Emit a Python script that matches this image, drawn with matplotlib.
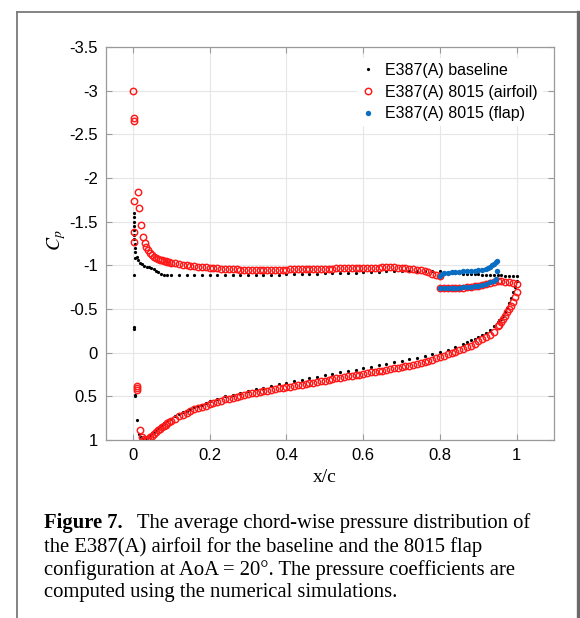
import matplotlib
matplotlib.use("Agg")
import matplotlib.pyplot as plt
from matplotlib.lines import Line2D

# E387(A) baseline, suction side (leading edge to trailing edge)
base_up_x = [0.003, 0.003, 0.003, 0.004, 0.004, 0.004, 0.004, 0.005, 0.005, 0.005, 0.003, 0.006,
             0.010, 0.014, 0.018, 0.024, 0.030, 0.036, 0.042, 0.048, 0.054, 0.060, 0.066, 0.072,
             0.080, 0.090, 0.10, 0.12, 0.14, 0.16, 0.18, 0.20, 0.22, 0.24, 0.26, 0.28, 0.30, 0.32,
             0.34, 0.36, 0.38, 0.40, 0.42, 0.44, 0.46, 0.48, 0.50, 0.52, 0.54, 0.56, 0.58, 0.60,
             0.62, 0.64, 0.66, 0.68, 0.70, 0.72, 0.74, 0.76, 0.78, 0.80, 0.81, 0.82, 0.83, 0.84,
             0.85, 0.86, 0.87, 0.88, 0.89, 0.90, 0.91, 0.92, 0.93, 0.94, 0.95, 0.96, 0.97, 0.98,
             0.99, 1.00]
base_up_cp = [-1.60, -1.55, -1.50, -1.45, -1.40, -1.35, -1.30, -1.25, -1.20, -1.15, -0.89, -1.08,
              -1.09, -1.06, -1.03, -1.01, -0.99, -0.98, -0.98, -0.97, -0.955, -0.94, -0.92, -0.905,
              -0.895, -0.89, -0.89, -0.885, -0.885, -0.885, -0.885, -0.885, -0.885, -0.885, -0.89,
              -0.89, -0.89, -0.89, -0.895, -0.895, -0.895, -0.90, -0.90, -0.90, -0.905, -0.905,
              -0.91, -0.91, -0.91, -0.915, -0.915, -0.92, -0.92, -0.925, -0.93, -0.93, -0.935,
              -0.935, -0.935, -0.93, -0.93, -0.93, -0.915, -0.913, -0.911, -0.909, -0.907, -0.905,
              -0.903, -0.901, -0.899, -0.897, -0.895, -0.893, -0.891, -0.889, -0.887, -0.885,
              -0.883, -0.881, -0.879, -0.877]

# E387(A) baseline, pressure side
base_lo_x = [0.004, 0.004, 0.005, 0.005, 0.010, 0.016, 0.020, 0.025, 0.030, 0.035, 0.040, 0.045,
             0.050, 0.055, 0.060, 0.065, 0.070, 0.075, 0.080, 0.090, 0.10, 0.11, 0.12, 0.13, 0.14,
             0.15, 0.16, 0.17, 0.18, 0.19, 0.20, 0.22, 0.24, 0.26, 0.28, 0.30, 0.32, 0.34, 0.36,
             0.38, 0.40, 0.42, 0.44, 0.46, 0.48, 0.50, 0.52, 0.54, 0.56, 0.58, 0.60, 0.62, 0.64,
             0.66, 0.68, 0.70, 0.72, 0.74, 0.76, 0.78, 0.80, 0.82, 0.84, 0.86, 0.87, 0.88, 0.89,
             0.90, 0.91, 0.92, 0.93, 0.94, 0.95, 0.955, 0.96, 0.965, 0.97, 0.975, 0.98, 0.985,
             0.99, 0.995, 1.00]
base_lo_cp = [-0.29, -0.27, 0.48, 0.50, 0.77, 0.93, 0.97, 0.985, 0.985, 0.975, 0.96, 0.945,
              0.925, 0.905, 0.885, 0.865, 0.845, 0.83, 0.81, 0.78, 0.755, 0.73, 0.705, 0.685,
              0.665, 0.645, 0.625, 0.61, 0.595, 0.575, 0.55, 0.525, 0.50, 0.48, 0.46, 0.44, 0.415,
              0.40, 0.38, 0.36, 0.345, 0.33, 0.31, 0.295, 0.28, 0.26, 0.245, 0.225, 0.21, 0.195,
              0.18, 0.165, 0.145, 0.13, 0.11, 0.095, 0.075, 0.06, 0.04, 0.02, -0.01, -0.035,
              -0.065, -0.10, -0.12, -0.14, -0.16, -0.18, -0.20, -0.225, -0.26, -0.30, -0.35, -0.37,
              -0.39, -0.42, -0.46, -0.51, -0.57, -0.63, -0.69, -0.75, -0.82]

# E387(A) 8015, main element suction side
foil_up_x = [0.001, 0.002, 0.004, 0.003, 0.004, 0.004, 0.013, 0.016, 0.020, 0.026, 0.031, 0.035,
             0.040, 0.045, 0.050, 0.055, 0.060, 0.065, 0.070, 0.075, 0.080, 0.085, 0.090, 0.095,
             0.10, 0.11, 0.12, 0.13, 0.14, 0.15, 0.16, 0.17, 0.18, 0.19, 0.20, 0.21, 0.22, 0.23,
             0.24, 0.25, 0.26, 0.27, 0.28, 0.29, 0.30, 0.31, 0.32, 0.33, 0.34, 0.35, 0.36, 0.37,
             0.38, 0.39, 0.40, 0.41, 0.42, 0.43, 0.44, 0.45, 0.46, 0.47, 0.48, 0.49, 0.50, 0.51,
             0.52, 0.53, 0.54, 0.55, 0.56, 0.57, 0.58, 0.59, 0.60, 0.61, 0.62, 0.63, 0.64, 0.65,
             0.66, 0.67, 0.68, 0.69, 0.70, 0.71, 0.72, 0.73, 0.74, 0.75, 0.76, 0.77, 0.78, 0.79,
             0.80]
foil_up_cp = [-3.00, -2.69, -2.65, -1.74, -1.38, -1.27, -1.84, -1.66, -1.46, -1.32, -1.26, -1.21,
              -1.17, -1.14, -1.115, -1.10, -1.085, -1.075, -1.065, -1.058, -1.052, -1.046, -1.04,
              -1.035, -1.03, -1.022, -1.015, -1.008, -1.00, -0.995, -0.99, -0.985, -0.98, -0.976,
              -0.972, -0.968, -0.965, -0.962, -0.96, -0.958, -0.956, -0.954, -0.952, -0.951, -0.95,
              -0.95, -0.95, -0.95, -0.95, -0.95, -0.95, -0.951, -0.951, -0.952, -0.952, -0.953,
              -0.953, -0.954, -0.955, -0.956, -0.957, -0.958, -0.959, -0.96, -0.961, -0.962,
              -0.963, -0.964, -0.965, -0.966, -0.967, -0.968, -0.969, -0.97, -0.971, -0.972,
              -0.973, -0.974, -0.975, -0.976, -0.977, -0.977, -0.976, -0.974, -0.972, -0.968,
              -0.963, -0.957, -0.95, -0.942, -0.932, -0.92, -0.905, -0.89, -0.875]

# E387(A) 8015, aft part suction side (under the flap)
foil_te_x = [0.80, 0.81, 0.82, 0.83, 0.84, 0.85, 0.86, 0.87, 0.88, 0.89, 0.90, 0.91, 0.92, 0.93,
             0.94, 0.95, 0.96, 0.97, 0.98, 0.99, 1.00]
foil_te_cp = [-0.735, -0.735, -0.735, -0.74, -0.74, -0.745, -0.745, -0.75, -0.755, -0.76, -0.765,
              -0.775, -0.785, -0.80, -0.81, -0.82, -0.815, -0.81, -0.805, -0.80, -0.79]

# E387(A) 8015, pressure side
foil_lo_x = [0.010, 0.010, 0.011, 0.018, 0.024, 0.028, 0.032, 0.036, 0.040, 0.045, 0.050, 0.055,
             0.060, 0.065, 0.070, 0.075, 0.080, 0.085, 0.090, 0.095, 0.10, 0.11, 0.12, 0.13, 0.14,
             0.15, 0.16, 0.17, 0.18, 0.19, 0.20, 0.21, 0.22, 0.23, 0.24, 0.25, 0.26, 0.27, 0.28,
             0.29, 0.30, 0.31, 0.32, 0.33, 0.34, 0.35, 0.36, 0.37, 0.38, 0.39, 0.40, 0.41, 0.42,
             0.43, 0.44, 0.45, 0.46, 0.47, 0.48, 0.49, 0.50, 0.51, 0.52, 0.53, 0.54, 0.55, 0.56,
             0.57, 0.58, 0.59, 0.60, 0.61, 0.62, 0.63, 0.64, 0.65, 0.66, 0.67, 0.68, 0.69, 0.70,
             0.71, 0.72, 0.73, 0.74, 0.75, 0.76, 0.77, 0.78, 0.79, 0.80, 0.81, 0.82, 0.83, 0.84,
             0.85, 0.86, 0.87, 0.88, 0.89, 0.90, 0.91, 0.92, 0.93, 0.94, 0.95, 0.955, 0.96, 0.965,
             0.97, 0.975, 0.98, 0.985, 0.99, 0.995, 1.00]
foil_lo_cp = [0.40, 0.43, 0.38, 0.89, 0.96, 0.99, 1.00, 0.995, 0.985, 0.97, 0.95, 0.93, 0.91,
              0.89, 0.87, 0.855, 0.84, 0.825, 0.81, 0.795, 0.78, 0.755, 0.73, 0.71, 0.69, 0.67,
              0.65, 0.635, 0.62, 0.605, 0.59, 0.575, 0.56, 0.55, 0.535, 0.525, 0.515, 0.505, 0.495,
              0.485, 0.475, 0.465, 0.46, 0.45, 0.44, 0.435, 0.425, 0.415, 0.41, 0.40, 0.395, 0.39,
              0.38, 0.375, 0.365, 0.36, 0.35, 0.345, 0.335, 0.33, 0.32, 0.31, 0.305, 0.295, 0.285,
              0.28, 0.27, 0.265, 0.255, 0.25, 0.24, 0.235, 0.225, 0.22, 0.21, 0.205, 0.195, 0.19,
              0.18, 0.175, 0.165, 0.155, 0.15, 0.14, 0.13, 0.12, 0.11, 0.095, 0.08, 0.065, 0.05,
              0.035, 0.02, 0.005, -0.01, -0.025, -0.04, -0.06, -0.08, -0.10, -0.13, -0.155, -0.18,
              -0.20, -0.24, -0.30, -0.32, -0.35, -0.38, -0.42, -0.46, -0.50, -0.53, -0.58, -0.64,
              -0.69]

# 8015 flap element, two sides
flap_a_x = [0.800, 0.805, 0.81, 0.82, 0.83, 0.84, 0.85, 0.86, 0.87, 0.88, 0.89, 0.90, 0.91,
            0.92, 0.925, 0.93, 0.935, 0.94, 0.945, 0.948]
flap_a_cp = [-0.88, -0.90, -0.91, -0.915, -0.92, -0.92, -0.925, -0.93, -0.93, -0.935, -0.94,
             -0.945, -0.95, -0.96, -0.97, -0.985, -1.00, -1.02, -1.04, -1.045]
flap_b_x = [0.80, 0.81, 0.82, 0.83, 0.84, 0.85, 0.86, 0.87, 0.88, 0.89, 0.90, 0.91, 0.92, 0.93,
            0.94, 0.945, 0.948]
flap_b_cp = [-0.74, -0.74, -0.74, -0.745, -0.745, -0.745, -0.75, -0.75, -0.755, -0.76, -0.765,
             -0.775, -0.79, -0.805, -0.825, -0.84, -0.93]

labels = ["E387(A) baseline", "E387(A) 8015 (airfoil)", "E387(A) 8015 (flap)"]
y_ticks = [-3.5, -3, -2.5, -2, -1.5, -1, -0.5, 0, 0.5, 1]
y_tick_labels = ["-3.5", "-3", "-2.5", "-2", "-1.5", "-1", "-0.5", "0", "0.5", "1"]
x_ticks = [0, 0.2, 0.4, 0.6, 0.8, 1]
x_tick_labels = ["0", "0.2", "0.4", "0.6", "0.8", "1"]

caption_head = "Figure 7."
caption_lines = ["The average chord-wise pressure distribution of",
                 "the E387(A) airfoil for the baseline and the 8015 flap",
                 "configuration at AoA = 20°. The pressure coefficients are",
                 "computed using the numerical simulations."]

plt.rcParams['mathtext.fontset'] = 'stix'
W, H = 580, 618
fig = plt.figure(figsize=(W / 100, H / 100), dpi=100)
ax = fig.add_axes([106 / W, 1 - 440 / H, 448 / W, 393 / H])

red = '#ff1a1a'
blue = '#0a6fc2'
ax.plot(base_up_x + base_lo_x, base_up_cp + base_lo_cp, linestyle='none', marker='o',
        ms=2.3, color='k', mew=0, label=labels[0])
ax.plot(foil_up_x + foil_te_x + foil_lo_x, foil_up_cp + foil_te_cp + foil_lo_cp,
        linestyle='none', marker='o', ms=4.6, mfc='none', mec=red, mew=1.05, label=labels[1])
ax.plot(flap_a_x + flap_b_x, flap_a_cp + flap_b_cp, linestyle='none', marker='o', ms=3.9,
        color=blue, mew=0, label=labels[2])

ax.set_xlim(-0.07, 1.097)
ax.set_ylim(1, -3.5)
ax.set_xticks(x_ticks)
ax.set_xticklabels(x_tick_labels)
ax.set_yticks(y_ticks)
ax.set_yticklabels(y_tick_labels)
ax.grid(True, color='#e6e6e6', lw=0.8)
ax.set_axisbelow(True)
for s in ax.spines.values():
    s.set_color('#9a9a9a')
    s.set_linewidth(0.9)
ax.tick_params(direction='in', length=4, width=0.8, color='#9a9a9a', top=True, right=True,
               labelsize=12, pad=6)
for t in ax.get_xticklabels() + ax.get_yticklabels():
    t.set_family('Liberation Sans')

leg = ax.legend(loc='upper right', bbox_to_anchor=(1 - 8 / 448, 1 - 8 / 393), frameon=True,
                fancybox=False, edgecolor='none', framealpha=1, handlelength=0.8,
                handletextpad=0.7, labelspacing=0.42, borderpad=0.3, borderaxespad=0.2,
                prop={'family': 'Liberation Sans', 'size': 11.5})

fig.text(57 / W, 1 - 240 / H, r'$C_p$', rotation=90, ha='center', va='center', fontsize=14)
fig.text(325 / W, 1 - 478 / H, 'x/c', ha='center', va='center', fontsize=14,
         family='Liberation Serif')

# page frame around figure and caption
fig.add_artist(Line2D([16.5 / W, 16.5 / W], [0, 1 - 11.5 / H], color='#7a7a7a', lw=1.3))
fig.add_artist(Line2D([16.5 / W, 577.5 / W], [1 - 11.5 / H, 1 - 11.5 / H], color='#7a7a7a', lw=1.3))
fig.add_artist(Line2D([577.5 / W, 577.5 / W], [0, 1 - 11.5 / H], color='#6a6a6a', lw=2.4))

# caption
cap_x = 44 / W
cap_y = [523, 547, 570, 593]
cap_size = 14.9
head = fig.text(cap_x, 1 - cap_y[0] / H, caption_head, ha='left', va='center', fontsize=cap_size,
                family='Liberation Serif', weight='bold')
fig.canvas.draw()
bb = head.get_window_extent()
fig.text(bb.x1 / W + 14 / W, 1 - cap_y[0] / H, caption_lines[0], ha='left', va='center',
         fontsize=cap_size, family='Liberation Serif')
for line, y in zip(caption_lines[1:], cap_y[1:]):
    fig.text(cap_x, 1 - y / H, line, ha='left', va='center', fontsize=cap_size,
             family='Liberation Serif')

fig.savefig('out.png', dpi=100)
